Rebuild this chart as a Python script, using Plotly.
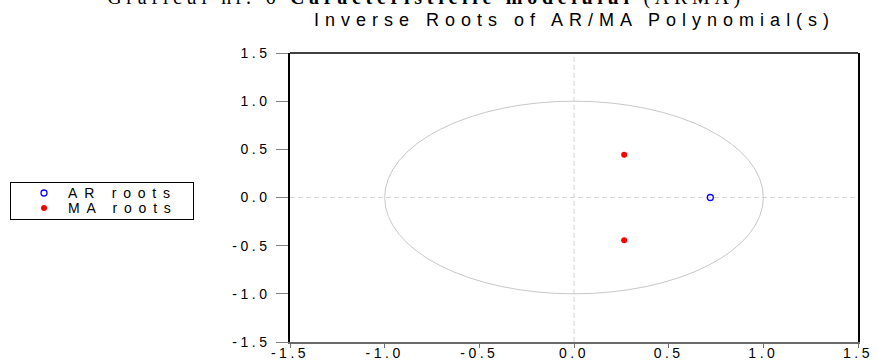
import plotly.graph_objects as go

# Data: inverse roots
ar_re = [0.72]
ar_im = [0.0]
ma_re = [0.265, 0.265]
ma_im = [0.445, -0.445]
tick_vals = [-1.5, -1.0, -0.5, 0.0, 0.5, 1.0, 1.5]
tick_text = ["-1.5", "-1.0", "-0.5", "0.0", "0.5", "1.0", "1.5"]

fig = go.Figure()
fig.add_trace(go.Scatter(x=ar_re, y=ar_im, mode="markers", name="AR roots",
                         marker=dict(symbol="circle-open", color="#0000ff", size=6,
                                     line=dict(width=1.3, color="#0000ff")),
                         cliponaxis=False))
fig.add_trace(go.Scatter(x=ma_re, y=ma_im, mode="markers", name="MA roots",
                         marker=dict(symbol="circle", color="#ff0000", size=6),
                         cliponaxis=False))

# unit circle and zero reference lines
fig.add_shape(type="circle", xref="x", yref="y", x0=-1, y0=-1, x1=1, y1=1,
              line=dict(color="#c8c8c8", width=1), layer="below")
fig.add_shape(type="line", xref="paper", yref="y", x0=0, x1=1, y0=0, y1=0,
              line=dict(color="#d4d4d4", width=1, dash="5px,3px"), layer="below")
fig.add_shape(type="line", xref="x", yref="paper", x0=0, x1=0, y0=0, y1=1,
              line=dict(color="#d4d4d4", width=1, dash="5px,3px"), layer="below")
# top frame line (black)
fig.add_shape(type="line", xref="paper", yref="paper", x0=0, x1=1, y0=1, y1=1,
              line=dict(color="#000000", width=1.5))

tick_font = dict(family="Liberation Sans, Arial", size=14, color="#000000")

fig.update_layout(
    width=877, height=361,
    margin=dict(l=289, r=19, t=53, b=19),
    paper_bgcolor="white", plot_bgcolor="white",
    xaxis=dict(range=[-1.5, 1.5], tickvals=tick_vals, ticktext=tick_text,
               ticks="outside", ticklen=4, tickcolor="#707070", tickwidth=1,
               showgrid=False, zeroline=False, showline=True, linewidth=2,
               linecolor="#6a6a6a", mirror=False, automargin=False,
               ticklabelstandoff=-7, tickfont=tick_font),
    yaxis=dict(range=[-1.5, 1.5], tickvals=tick_vals, ticktext=tick_text,
               ticks="outside", ticklen=12, tickcolor="#808080", tickwidth=1,
               showgrid=False, zeroline=False, showline=True, linewidth=1.5,
               linecolor="#000000", mirror=True, automargin=False,
               ticklabelstandoff=3, tickfont=tick_font),
    showlegend=True,
    legend=dict(x=(10 - 289) / 569, y=(342 - 182) / 289, xanchor="left", yanchor="top",
                bordercolor="#000000", borderwidth=1, bgcolor="white",
                font=dict(family="Liberation Sans, Arial", size=14, color="#000000"),
                tracegroupgap=0, itemwidth=38),
    annotations=[
        dict(text="Inverse Roots of AR/MA Polynomial(s)", xref="paper", yref="paper",
             x=0.5, y=1, yshift=21, xanchor="center", yanchor="bottom", showarrow=False,
             font=dict(family="Liberation Sans, Arial", size=18, color="#000000")),
        dict(text="Graficul nr. 6 <b>Caracteristicile modelului</b> (ARMA)",
             xref="paper", yref="paper", x=0.5, y=1, xshift=-148, yshift=42,
             xanchor="center", yanchor="bottom", showarrow=False,
             font=dict(family="Liberation Serif, Times New Roman", size=20, color="#000000")),
    ],
)

# The reference text is horizontally stretched; emulate with letter spacing,
# and tighten the legend box like the original.
post = """
document.body.style.margin = '0';
document.body.style.overflow = 'hidden';
var gd = document.getElementById('{plot_id}');
function tweak() {
  function set(sel, ls) {
    gd.querySelectorAll(sel).forEach(function (t) { t.style.letterSpacing = ls; });
  }
  set('.xtick text', '3.5px');
  set('.ytick text', '3.5px');
  set('.legendtext', '6.8px');
  var ann = gd.querySelectorAll('.annotation-text');
  if (ann.length > 0) { ann[0].style.letterSpacing = '6px'; }
  if (ann.length > 1) { ann[1].style.letterSpacing = '4.7px'; }
  var w = 183, h = 37;
  gd.querySelectorAll('.legend rect.bg').forEach(function (r) {
    r.setAttribute('width', w); r.setAttribute('height', h);
  });
  gd.querySelectorAll('clipPath[id^="legend"] rect').forEach(function (r) {
    r.setAttribute('width', w); r.setAttribute('height', h);
  });
  gd.querySelectorAll('.legend .traces').forEach(function (g, i) {
    g.setAttribute('transform', 'translate(10,' + (11 + 15 * i) + ')');
  });
}
tweak();
setTimeout(tweak, 50);
setTimeout(tweak, 300);
if (gd && gd.on) { gd.on('plotly_afterplot', tweak); }
"""

fig.write_html("out.html", post_script=post, config={"displayModeBar": False})
